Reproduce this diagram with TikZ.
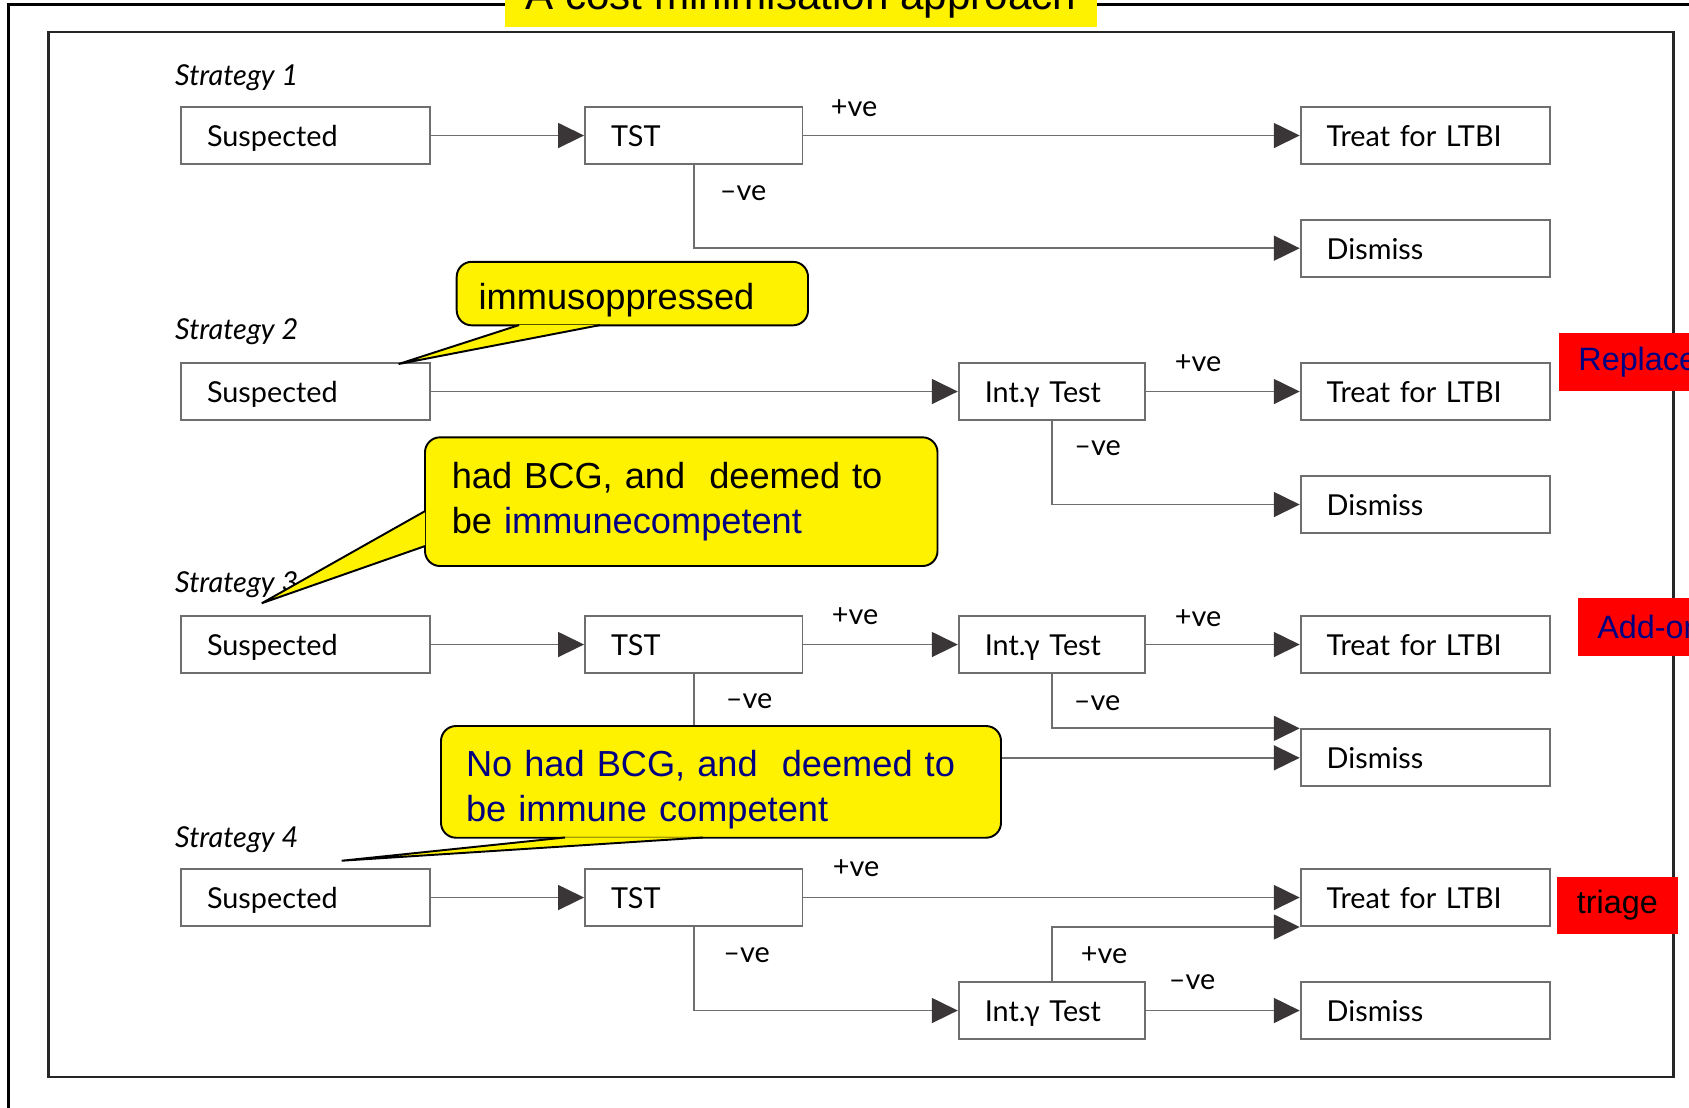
\documentclass[tikz,border=0pt]{standalone}
\usepackage{fontspec}
\setmainfont{Lato}
\newfontfamily\calloutfont{Liberation Sans}
\usepackage{tikz}
\usetikzlibrary{arrows.meta}
\usetikzlibrary{calc}
\usetikzlibrary{positioning}
\definecolor{linegray}{HTML}{6E6E6E}
\definecolor{tipgray}{HTML}{3A3637}
\definecolor{callnavy}{HTML}{000080}
\tikzset{box/.style={draw=linegray,line width=0.55pt,minimum height=0.57cm,inner xsep=0.26cm,text height=7.5pt,text depth=1.3pt,align=left,font=\fontsize{8.2}{9.8}\selectfont},
sus/.style={box,text width=1.97cm},
tstbox/.style={box,text width=1.655cm},
intbox/.style={box,text width=1.343cm},
flow/.style={draw=linegray,line width=0.5pt,-{Triangle[length=0.26cm,width=0.25cm,color=tipgray]}},
sign/.style={inner sep=0pt,font=\fontsize{8.2}{9.8}\selectfont},
strat/.style={inner sep=0pt,anchor=west,font=\fontsize{8.2}{9.8}\selectfont\itshape},
bubble/.style={draw=black,fill=yellow,line width=0.55pt,rounded corners=0.15cm,inner ysep=0.08cm,align=left,font=\calloutfont\fontsize{10.3}{12.8}\selectfont},
beak/.style={draw=black,fill=yellow,line width=0.55pt},
tag/.style={fill=red,minimum height=0.577cm,inner xsep=0.197cm,font=\calloutfont\fontsize{9.2}{11}\selectfont},
titlebox/.style={fill=yellow,minimum width=5.916cm,inner ysep=0pt,text height=0.5cm,text depth=0.177cm,font=\calloutfont\fontsize{12}{14}\selectfont}}

\begin{document}
\begin{tikzpicture}
\useasboundingbox (0,0) rectangle (16.89,-11.07);
\draw[black!85,line width=0.6pt] (0.485,-0.323) rectangle (16.735,-10.773);
\draw[line width=0.75pt] (0.086,-11.3) -- (0.086,-0.047) -- (17.3,-0.047);
\node[titlebox,anchor=base] (title) at (8.008,-0.09) {A cost minimisation approach};

\node[strat] (st1) at (1.745,-0.78) {Strategy 1};
\node[strat] (st2) at (1.745,-3.318) {Strategy 2};
\node[strat] (st3) at (1.745,-5.85) {Strategy 3};
\node[strat] (st4) at (1.745,-8.4) {Strategy 4};

\node[sus] (sus1) at (3.055,-1.355) {Suspected};
\node[tstbox] (tst1) at (6.9375,-1.355) {TST};
\node[sus] (trt1) at (14.252,-1.355) {Treat for LTBI};
\node[sus] (dis1) at (14.252,-2.482) {Dismiss};
\draw[flow] (sus1) -- (tst1);
\draw[flow] (tst1) -- (trt1);
\draw[flow] (tst1.south) |- (dis1);
\node[sign] (p1) at (8.54,-1.08) {+ve};
\node[sign] (n1) at (7.43,-1.93) {–ve};

\node[sus] (sus2) at (3.055,-3.915) {Suspected};
\node[intbox] (int2) at (10.519,-3.915) {Int.γ Test};
\node[sus] (trt2) at (14.252,-3.915) {Treat for LTBI};
\node[sus] (dis2) at (14.252,-5.045) {Dismiss};
\draw[flow] (sus2) -- (int2);
\draw[flow] (int2) -- (trt2);
\draw[flow] (int2.south) |- (dis2);
\node[sign] (p2) at (11.98,-3.63) {+ve};
\node[sign] (n2) at (10.975,-4.48) {–ve};

\node[sus] (sus3) at (3.055,-6.445) {Suspected};
\node[tstbox] (tst3) at (6.9375,-6.445) {TST};
\node[intbox] (int3) at (10.519,-6.445) {Int.γ Test};
\node[sus] (trt3) at (14.252,-6.445) {Treat for LTBI};
\node[sus] (dis3) at (14.252,-7.578) {Dismiss};
\draw[flow] (sus3) -- (tst3);
\draw[flow] (tst3) -- (int3);
\draw[flow] (int3) -- (trt3);
\draw[flow] (int3.south) |- (dis3.north west);
\draw[flow] (tst3.south) |- (dis3);
\node[sign] (p3a) at (8.55,-6.16) {+ve};
\node[sign] (p3b) at (11.98,-6.18) {+ve};
\node[sign] (n3a) at (7.49,-7.01) {–ve};
\node[sign] (n3b) at (10.97,-7.03) {–ve};

\node[sus] (sus4) at (3.055,-8.975) {Suspected};
\node[tstbox] (tst4) at (6.9375,-8.975) {TST};
\node[intbox] (int4) at (10.519,-10.105) {Int.γ Test};
\node[sus] (trt4) at (14.252,-8.975) {Treat for LTBI};
\node[sus] (dis4) at (14.252,-10.105) {Dismiss};
\draw[flow] (sus4) -- (tst4);
\draw[flow] (tst4) -- (trt4);
\draw[flow] (tst4.south) |- (int4);
\draw[flow] (int4) -- (dis4);
\draw[flow] (int4.north) |- (trt4.south west);
\node[sign] (p4a) at (8.56,-8.68) {+ve};
\node[sign] (n4a) at (7.465,-9.55) {–ve};
\node[sign] (p4b) at (11.04,-9.55) {+ve};
\node[sign] (n4b) at (11.92,-9.82) {–ve};

\node[bubble,text width=3.073cm,inner xsep=0.22cm,minimum height=0.635cm,text height=0.39cm] (imm) at (6.3235,-2.9355) {immusoppressed};
\coordinate (immtip) at (3.986,-3.64);
\filldraw[beak] ($(imm.south west)+(0.633,0.012)$) -- (immtip) -- ($(imm.south west)+(1.443,0.012)$);
\node[bubble,text width=4.589cm,inner xsep=0.268cm,minimum height=1.287cm] (bcg) at (6.8125,-5.0165) {had BCG, and~ deemed to\\be \textcolor{callnavy}{immunecompetent}};
\coordinate (bcgtip) at (2.618,-6.032);
\filldraw[beak] ($(bcg.south west)+(0.012,0.56)$) -- (bcgtip) -- ($(bcg.south west)+(0.012,0.21)$);
\node[bubble,text width=5.1cm,inner xsep=0.25cm,minimum height=1.117cm,text height=0.41cm,text=callnavy] (nobcg) at (7.21,-7.8185) {No had BCG, and~ deemed to\\be immune competent};
\coordinate (nobcgtip) at (3.417,-8.607);
\filldraw[beak] ($(nobcg.south west)+(1.25,0.012)$) -- (nobcgtip) -- ($(nobcg.south west)+(2.63,0.012)$);

\node[tag,anchor=west,text=callnavy] (repl) at (15.58,-3.619) {Replacement};
\node[tag,anchor=west,text=callnavy] (addon) at (15.77,-6.27) {Add-on};
\node[tag,minimum width=1.187cm] (triage) at (16.1735,-9.055) {triage};
\end{tikzpicture}
\end{document}
